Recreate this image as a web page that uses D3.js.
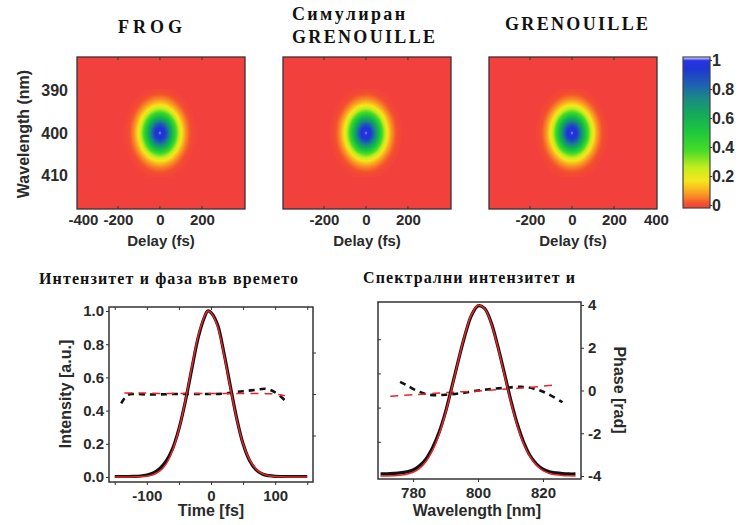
<!DOCTYPE html>
<html>
<head>
<meta charset="utf-8">
<script src="https://cdn.jsdelivr.net/npm/d3@7"></script>
<style>
  body { margin: 0; background: #fff; }
  text { font-family: "Liberation Sans", Arial, sans-serif; font-weight: bold; fill: #2a2a2a; }
  .ttl { font-family: "Liberation Serif", "Times New Roman", serif; fill: #111; }
  .tick line { stroke: #333; }
</style>
</head>
<body>
<script>
// ---- trace (delay x wavelength) marginals
var traceDelays = [-200,-180,-160,-140,-120,-100,-80,-60,-40,-20,0,20,40,60,80,100,120,140,160,180,200];
var delayProfile = [0.0017,0.006,0.017,0.044,0.101,0.203,0.361,0.563,0.775,0.938,1,0.938,0.775,0.563,0.361,0.203,0.101,0.044,0.017,0.006,0.0017];
var traceWl = [390,391,392,393,394,395,396,397,398,399,400,401,402,403,404,405,406,407,408,409,410];
var wlProfile = [0.021,0.044,0.085,0.151,0.249,0.381,0.539,0.707,0.857,0.962,1,0.962,0.857,0.707,0.539,0.381,0.249,0.151,0.085,0.044,0.021];

var mapTitles = [["FROG"], ["Симулиран", "GRENOUILLE"], ["GRENOUILLE"]];
var delayTicks = [[-400,-200,0,200], [-200,0,200], [-200,0,200,400]];
var wlTicks = [390,400,410];

// colour scale
var colorVals = [0,0.03,0.07,0.12,0.18,0.27,0.38,0.5,0.62,0.72,0.82,0.92,0.975,1];
var colorList = ["#f2403c","#f4502f","#f78228","#fab41e","#f5e61e","#c2ec1e","#46dc28","#1ec83c","#14aa5a","#1a8c82","#1e5fb4","#1e37d2","#2832e6","#f0f0ff"];
var cbTicks = [0,0.2,0.4,0.6,0.8,1];

// ---- temporal intensity / phase
var time = [-150,-140,-130,-120,-110,-100,-90,-80,-70,-60,-50,-40,-30,-20,-10,-5,0,10,20,30,40,50,60,70,80,90,100,110,120,130,140,150];
var tIntBlack = [0.003,0.003,0.003,0.004,0.006,0.012,0.025,0.05,0.095,0.17,0.29,0.455,0.65,0.84,0.965,1,0.99,0.92,0.75,0.55,0.355,0.2,0.1,0.045,0.018,0.008,0.004,0.003,0.003,0.003,0.003,0.003];
var tIntRed = [0,0,0,0.001,0.002,0.005,0.014,0.035,0.078,0.158,0.286,0.46,0.66,0.85,0.97,1,0.99,0.91,0.74,0.54,0.35,0.2,0.105,0.049,0.02,0.008,0.003,0.001,0,0,0,0];
var tPhBlackT = [-140,-130,-120,-100,-80,-60,-40,-20,0,20,40,55,70,85,100,115];
var tPhBlack = [-0.45,-0.05,0,-0.02,-0.02,0,0,0,0,0.02,0.1,0.15,0.2,0.25,0.08,-0.3];
var tPhRedT = [-135,-110,-80,-40,0,40,80,100,115];
var tPhRed = [0.05,0.05,0.03,0.02,0.02,0.03,0.02,0,-0.08];

// ---- spectral intensity / phase
var wl = [770,772,774,776,778,780,782,784,786,788,790,792,794,796,798,800,802,804,806,808,810,812,814,816,818,820,822,824,826,828,830];
var sIntBlack = [0.012,0.013,0.015,0.018,0.024,0.035,0.06,0.1,0.165,0.255,0.375,0.525,0.68,0.825,0.94,0.995,0.98,0.9,0.765,0.61,0.45,0.31,0.2,0.12,0.07,0.04,0.025,0.018,0.014,0.012,0.012];
var sIntRed = [0,0,0.001,0.004,0.01,0.022,0.045,0.085,0.15,0.243,0.368,0.52,0.68,0.83,0.945,0.998,0.98,0.895,0.76,0.6,0.44,0.3,0.19,0.113,0.063,0.032,0.015,0.007,0.003,0.001,0];
var sPhBlackW = [776,778,781,785,790,795,800,804,808,813,817,821,826];
var sPhBlack = [0.4,0.25,0,-0.2,-0.2,-0.12,0,0.07,0.12,0.17,0.1,-0.12,-0.55];
var sPhRedW = [773,780,790,800,810,818,823];
var sPhRed = [-0.27,-0.2,-0.1,-0.02,0.08,0.17,0.25];

var svg = d3.select("body").append("svg")
  .attr("width", 739).attr("height", 525);

var colorScale = d3.scaleLinear().domain(colorVals).range(colorList).interpolate(d3.interpolateRgb);
var plain = function(d) { return String(d); };   // hyphen minus like the original

// ---------------- top row: traces
var mapBoxes = [{x0: 77, x1: 245}, {x0: 283, x1: 451}, {x0: 489, x1: 657}];
var mapTop = 57, mapBot = 209;

var grid = [];
traceWl.forEach(function(w, j) {
  traceDelays.forEach(function(d, i) { grid.push(delayProfile[i] * wlProfile[j]); });
});
var contours = d3.contours()
  .size([traceDelays.length, traceWl.length])
  .thresholds(d3.range(0.01, 1.0, 0.01))(grid);

var yWl = d3.scaleLinear().domain([382, 418]).range([mapTop, mapBot]);

mapBoxes.forEach(function(b, k) {
  var xs = d3.scaleLinear().domain([-395, 405]).range([b.x0, b.x1]);
  var g = svg.append("g");
  g.append("clipPath").attr("id", "clip" + k)
    .append("rect").attr("x", b.x0).attr("y", mapTop).attr("width", b.x1 - b.x0).attr("height", mapBot - mapTop);
  g.append("rect").attr("x", b.x0).attr("y", mapTop).attr("width", b.x1 - b.x0).attr("height", mapBot - mapTop)
    .attr("fill", colorScale(0));
  var proj = d3.geoTransform({point: function(x, y) {
    this.stream.point(xs(traceDelays[0] + (x - 0.5) * 20), yWl(traceWl[0] + (y - 0.5) * 1));
  }});
  g.append("g").attr("clip-path", "url(#clip" + k + ")")
    .selectAll("path").data(contours).join("path")
    .attr("d", d3.geoPath(proj))
    .attr("fill", function(d) { return colorScale(d.value); });

  g.append("g").attr("transform", "translate(0," + mapBot + ")")
    .call(d3.axisBottom(xs).tickValues(delayTicks[k]).tickSize(0).tickPadding(5).tickFormat(plain))
    .call(function(a) {
      a.select(".domain").remove();
      a.selectAll("text").style("font-size", "15px");
      // crowded first label sits a bit to the right, as in the original
      a.selectAll(".tick").filter(function(d) { return d === -400; }).select("text").attr("x", 7);
    });
  // small inward ticks, top & bottom
  [mapTop, mapBot].forEach(function(yy) {
    g.selectAll(null).data(delayTicks[k].filter(function(v) { return v > -395 && v < 400; })).join("line")
      .attr("x1", function(v) { return xs(v); }).attr("x2", function(v) { return xs(v); })
      .attr("y1", yy).attr("y2", yy === mapTop ? yy + 3 : yy - 3)
      .attr("stroke", "#333");
  });
  g.append("rect").attr("x", b.x0).attr("y", mapTop).attr("width", b.x1 - b.x0).attr("height", mapBot - mapTop)
    .attr("fill", "none").attr("stroke", "#333").attr("stroke-width", 1.3);

  g.append("text").attr("x", (b.x0 + b.x1) / 2).attr("y", 246).attr("text-anchor", "middle")
    .style("font-size", "15px").text("Delay (fs)");

  // titles
  var tl = mapTitles[k];
  if (tl.length === 1) {
    g.append("text").attr("class", "ttl").attr("x", k === 0 ? 118 : 505).attr("y", k === 0 ? 33 : 30)
      .attr("textLength", k === 0 ? 64 : 143).attr("lengthAdjust", "spacing")
      .style("font-size", "18px").text(tl[0]);
  } else {
    g.append("text").attr("class", "ttl").attr("x", 292).attr("y", 20)
      .attr("textLength", 113).attr("lengthAdjust", "spacing").style("font-size", "18px").text(tl[0]);
    g.append("text").attr("class", "ttl").attr("x", 292).attr("y", 43)
      .attr("textLength", 143).attr("lengthAdjust", "spacing").style("font-size", "18px").text(tl[1]);
  }
});

// left wavelength axis on first map
svg.append("g").attr("transform", "translate(77,0)")
  .call(d3.axisLeft(yWl).tickValues(wlTicks).tickSize(0).tickPadding(9))
  .call(function(a) { a.select(".domain").remove(); a.selectAll("text").style("font-size", "16px"); });
svg.append("text").attr("transform", "translate(29,134) rotate(-90)").attr("text-anchor", "middle")
  .style("font-size", "16px").text("Wavelength (nm)");

// colorbar
var defs = svg.append("defs");
var grad = defs.append("linearGradient").attr("id", "cbGrad")
  .attr("x1", 0).attr("y1", 1).attr("x2", 0).attr("y2", 0);
colorVals.forEach(function(v, i) {
  grad.append("stop").attr("offset", v).attr("stop-color", colorList[i]);
});
svg.append("rect").attr("x", 683).attr("y", 57).attr("width", 27).attr("height", 151)
  .attr("fill", "url(#cbGrad)").attr("stroke", "#444").attr("stroke-width", 1.2);
var cbY = d3.scaleLinear().domain([0, 1]).range([205, 60]);
svg.append("g").attr("transform", "translate(710,0)")
  .call(d3.axisRight(cbY).tickValues(cbTicks).tickSize(2).tickPadding(0).tickFormat(function(d) { return d === 0 || d === 1 ? d : d3.format(".1f")(d); }))
  .call(function(a) { a.select(".domain").remove(); a.selectAll("text").style("font-size", "16px"); });

// ---------------- bottom left: time domain
var L = {x0: 109, x1: 313, y0: 307, y1: 482};
var xT = d3.scaleLinear().domain([-159, 159]).range([L.x0, L.x1]);
var yI = d3.scaleLinear().domain([0, 1]).range([477, 311]);
var yPL = d3.scaleLinear().domain([-4, 4]).range([477, 311]);

function drawLine(xs, ys, xv, yv, color, w, dash) {
  var line = d3.line().curve(d3.curveCatmullRom)
    .x(function(d, i) { return xs(xv[i]); })
    .y(function(d) { return ys(d); });
  var p = svg.append("path").datum(yv)
    .attr("d", line).attr("fill", "none")
    .attr("stroke", color).attr("stroke-width", w).attr("stroke-linejoin", "round");
  if (dash) p.attr("stroke-dasharray", dash);
}

drawLine(xT, yPL, tPhBlackT, tPhBlack, "#111", 2.6, "6,5");
drawLine(xT, yPL, tPhRedT, tPhRed, "#e8262a", 1.5, "8,6");
drawLine(xT, yI, time, tIntBlack, "#111", 3.2);
drawLine(xT, yI, time, tIntRed, "#e8262a", 1.5);

svg.append("g").attr("transform", "translate(0," + L.y1 + ")")
  .call(d3.axisBottom(xT).tickValues([-150,-100,-50,0,50,100,150]).tickSize(3).tickPadding(5)
    .tickFormat(function(d) { return d % 100 === 0 ? String(d) : ""; }))
  .call(function(a) { a.select(".domain").remove(); a.selectAll("text").style("font-size", "15px"); });
svg.append("g").attr("transform", "translate(" + L.x0 + ",0)")
  .call(d3.axisLeft(yI).tickValues([0,0.2,0.4,0.6,0.8,1]).tickSize(3).tickPadding(2).tickFormat(d3.format(".1f")))
  .call(function(a) { a.select(".domain").remove(); a.selectAll("text").style("font-size", "15px"); });
svg.append("g").attr("transform", "translate(" + L.x1 + ",0)")
  .call(d3.axisLeft(yPL).tickValues([-2,0,2]).tickSize(-3).tickFormat(""))
  .call(function(a) { a.select(".domain").remove(); });
svg.append("g").attr("transform", "translate(0," + L.y0 + ")")
  .call(d3.axisBottom(xT).tickValues([-150,-100,-50,0,50,100,150]).tickSize(3).tickFormat(""))
  .call(function(a) { a.select(".domain").remove(); });
svg.append("rect").attr("x", L.x0).attr("y", L.y0).attr("width", L.x1 - L.x0).attr("height", L.y1 - L.y0)
  .attr("fill", "none").attr("stroke", "#333").attr("stroke-width", 1.5);

svg.append("text").attr("x", 211).attr("y", 516).attr("text-anchor", "middle")
  .style("font-size", "16px").text("Time [fs]");
svg.append("text").attr("transform", "translate(71,394) rotate(-90)").attr("text-anchor", "middle")
  .style("font-size", "16px").text("Intensity [a.u.]");
svg.append("text").attr("class", "ttl").attr("x", 39).attr("y", 284)
  .attr("textLength", 259).attr("lengthAdjust", "spacing").style("font-size", "16px")
  .text("Интензитет и фаза във времето");

// ---------------- bottom right: spectral domain
var R = {x0: 378, x1: 581, y0: 302, y1: 479};
var xW = d3.scaleLinear().domain([769.2, 831.7]).range([R.x0, R.x1]);
var yS = d3.scaleLinear().domain([0, 1]).range([476, 305]);
var yPR = d3.scaleLinear().domain([-4, 4]).range([476, 305]);

drawLine(xW, yPR, sPhBlackW, sPhBlack, "#111", 2.6, "6,5");
drawLine(xW, yPR, sPhRedW, sPhRed, "#e8262a", 1.5, "8,6");
drawLine(xW, yS, wl, sIntBlack, "#111", 3.2);
drawLine(xW, yS, wl, sIntRed, "#e8262a", 1.5);

svg.append("g").attr("transform", "translate(0," + R.y1 + ")")
  .call(d3.axisBottom(xW).tickValues([780,800,820]).tickSize(3).tickPadding(5))
  .call(function(a) { a.select(".domain").remove(); a.selectAll("text").style("font-size", "15px"); });
svg.append("g").attr("transform", "translate(" + R.x1 + ",0)")
  .call(d3.axisRight(yPR).tickValues([-4,-2,0,2,4]).tickSize(3).tickPadding(4).tickFormat(plain))
  .call(function(a) { a.select(".domain").remove(); a.selectAll("text").style("font-size", "15px"); });
svg.append("g").attr("transform", "translate(" + R.x0 + ",0)")
  .call(d3.axisRight(yS).tickValues([0.2,0.4,0.6,0.8]).tickSize(3).tickFormat(""))
  .call(function(a) { a.select(".domain").remove(); });
svg.append("rect").attr("x", R.x0).attr("y", R.y0).attr("width", R.x1 - R.x0).attr("height", R.y1 - R.y0)
  .attr("fill", "none").attr("stroke", "#333").attr("stroke-width", 1.5);

svg.append("text").attr("x", 477).attr("y", 516).attr("text-anchor", "middle")
  .style("font-size", "16px").text("Wavelength [nm]");
svg.append("text").attr("transform", "translate(614,390) rotate(90)").attr("text-anchor", "middle")
  .style("font-size", "16px").text("Phase [rad]");
svg.append("text").attr("class", "ttl").attr("x", 363).attr("y", 283)
  .attr("textLength", 212).attr("lengthAdjust", "spacing").style("font-size", "16px")
  .text("Спектрални интензитет и");
</script>
</body>
</html>
